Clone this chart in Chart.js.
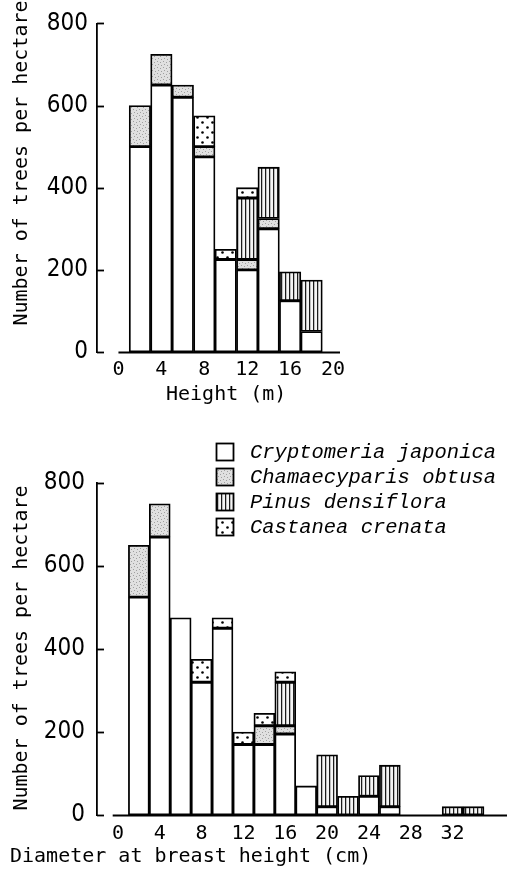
<!DOCTYPE html>
<html><head><meta charset="utf-8">
<script src="https://cdn.jsdelivr.net/npm/chart.js@4.4.1/dist/chart.umd.min.js"></script>
<style>
html,body{margin:0;padding:0;background:#fff;width:509px;height:870px;overflow:hidden}
#c1{position:absolute;left:0;top:0}
#c2{position:absolute;left:0;top:430px}
</style></head><body>
<canvas id="c1" width="509" height="410"></canvas>
<canvas id="c2" width="509" height="440"></canvas>
<script>
// ---------- data ----------
const speciesNames = ['Cryptomeria japonica','Chamaecyparis obtusa','Pinus densiflora','Castanea crenata'];
const yTicks = [0,200,400,600,800];
const yTitle = 'Number of trees per hectare';

const heightClasses = [2,4,6,8,10,12,14,16,18];
const heightTickLabels = [0,4,8,12,16,20];
const hCrypt = [500,650,620,475,225,200,300,125,50];
const hCham  = [100,75,30,25,0,25,25,0,0];
const hPinus = [0,0,0,0,0,150,125,70,125];
const hCast  = [0,0,0,75,25,25,0,0,0];
const heightTitle = 'Height (m)';

const dbhClasses = [2,4,6,8,10,12,14,16,18,20,22,24,26,28,30,32,34];
const dbhTickLabels = [0,4,8,12,16,20,24,28,32];
const dCrypt = [525,670,475,320,450,170,170,195,70,20,0,45,20,0,0,0,0];
const dCham  = [125,80,0,0,0,0,45,20,0,0,0,0,0,0,0,0,0];
const dPinus = [0,0,0,0,0,0,0,105,0,125,45,50,100,0,0,20,20];
const dCast  = [0,0,0,55,25,30,30,25,0,0,0,0,0,0,0,0,0];
const dbhTitle = 'Diameter at breast height (cm)';

// ---------- patterns ----------
function makePattern(kind){
  const c=document.createElement('canvas');
  const g=c.getContext('2d');
  if(kind==='stipple'){
    c.width=6;c.height=6;
    g.fillStyle='#e0e0e0';g.fillRect(0,0,6,6);
    g.fillStyle='#a0a0a0';
    g.fillRect(1,1,1,1);g.fillRect(4,2,1,1);g.fillRect(2,4,1,1);g.fillRect(5,5,1,1);
  } else if(kind==='stripes'){
    c.width=4;c.height=4;
    g.fillStyle='#f4f4f4';g.fillRect(0,0,4,4);
    g.fillStyle='#bdbdbd';g.fillRect(2,0,1,4);
    g.fillStyle='#1a1a1a';g.fillRect(1,0,1,4);
  } else if(kind==='dots'){
    c.width=10;c.height=10;
    g.fillStyle='#fff';g.fillRect(0,0,10,10);
    g.fillStyle='#000';
    g.beginPath();g.arc(2.5,2.5,1.3,0,Math.PI*2);g.fill();
    g.beginPath();g.arc(7.5,7.5,1.3,0,Math.PI*2);g.fill();
  } else {
    return '#ffffff';
  }
  return g.createPattern(c,'repeat');
}
const fills = [makePattern('white'),makePattern('stipple'),makePattern('stripes'),makePattern('dots')];

const MONO = '"DejaVu Sans Mono", "Liberation Mono", monospace';
const NARROW = '"Liberation Sans Narrow", "DejaVu Sans Condensed", "Roboto", sans-serif';

function toPoints(xs, ys){ return xs.map((x,i)=>({x:x, y: ys[i] ? ys[i] : null})); }

function makeDatasets(xs, series){
  return series.map((s,i)=>({
    label: speciesNames[i],
    data: toPoints(xs, s),
    backgroundColor: fills[i],
    borderColor: '#000',
    borderWidth: 1.8,
    borderSkipped: false,
    barPercentage: 1,
    categoryPercentage: 1
  }));
}

const deco = {
  id: 'deco',
  afterDraw(chart, args, o){
    const ctx = chart.ctx, xs = chart.scales.x, ys = chart.scales.y, a = chart.chartArea;
    ctx.save();
    ctx.strokeStyle = '#000'; ctx.lineWidth = 1.8;
    // inward y ticks
    yTicks.forEach(v=>{
      const py = Math.round(ys.getPixelForValue(v))+0.5;
      ctx.beginPath(); ctx.moveTo(a.left, py); ctx.lineTo(a.left+7, py); ctx.stroke();
    });
    // x baseline
    const by = Math.round(ys.getPixelForValue(0))+0.5;
    ctx.beginPath(); ctx.moveTo(xs.getPixelForValue(o.baseStart), by); ctx.lineTo(a.right, by); ctx.stroke();
    // titles
    ctx.fillStyle = '#000';
    ctx.font = '20px ' + MONO;
    ctx.textBaseline = 'middle';
    ctx.textAlign = 'left';
    ctx.fillText(o.xTitle, o.xTitleX, o.xTitleY);
    ctx.save();
    ctx.translate(o.yTitleX, o.yTitleY);
    ctx.rotate(-Math.PI/2);
    ctx.textAlign = 'center';
    ctx.fillText(yTitle, 0, 0);
    ctx.restore();
    // legend
    if(o.legend){
      const L = o.legend;
      ctx.font = 'italic 20.5px "Liberation Mono", "DejaVu Sans Mono", monospace';
      chart.data.datasets.forEach((ds,i)=>{
        const cy = L.y + i*L.step;
        ctx.fillStyle = ds.backgroundColor;
        ctx.fillRect(L.x, cy-9, 18, 18);
        ctx.lineWidth = 1.8; ctx.strokeStyle = '#000';
        ctx.strokeRect(L.x+0.5, cy-8.5, 17, 17);
        ctx.fillStyle = '#000';
        ctx.textAlign = 'left';
        ctx.fillText(ds.label, L.x+34, cy+1);
      });
    }
    ctx.restore();
  }
};

function makeOptions(xmin, xmax, tickVals, padTop, padRight, xHeight, tickPad, xTickPad, decoOpts){
  return {
    responsive: false,
    animation: false,
    events: [],
    layout: { padding: { top: padTop, right: padRight, left: 0, bottom: 0 } },
    plugins: { legend: { display: false }, tooltip: { enabled: false }, deco: decoOpts },
    scales: {
      x: {
        type: 'linear', stacked: true, min: xmin, max: xmax, offset: false,
        grid: { display: false }, border: { display: false },
        afterBuildTicks: s => { s.ticks = tickVals.map(v=>({value:v})); },
        afterFit: s => { s.height = xHeight; },
        ticks: { color: '#000', font: { family: MONO, size: 20 }, padding: xTickPad, maxRotation: 0, autoSkip: false }
      },
      y: {
        stacked: true, min: 0, max: 800,
        grid: { display: false, drawTicks: false },
        border: { display: true, color: '#000', width: 1.8 },
        afterBuildTicks: s => { s.ticks = yTicks.map(v=>({value:v})); },
        afterFit: s => { s.width = 97; },
        ticks: { color: '#000', font: { family: NARROW, size: 24 }, padding: tickPad }
      }
    }
  };
}

new Chart(document.getElementById('c1'), {
  type: 'bar',
  data: { datasets: makeDatasets(heightClasses, [hCrypt,hCham,hPinus,hCast]) },
  options: makeOptions(-2, 20.65, heightTickLabels, 17, 169, 58, 9, -2,
    { baseStart: 0, xTitle: heightTitle, xTitleX: 166, xTitleY: 395, yTitleX: 22, yTitleY: 163 }),
  plugins: [deco]
});

new Chart(document.getElementById('c2'), {
  type: 'bar',
  data: { datasets: makeDatasets(dbhClasses, [dCrypt,dCham,dPinus,dCast]) },
  options: makeOptions(-2, 37.2, dbhTickLabels, 53, 2, 55, 12, -1,
    { baseStart: -0.5, xTitle: dbhTitle, xTitleX: 10, xTitleY: 427, yTitleX: 22, yTitleY: 218,
      legend: { x: 216, y: 22, step: 25 } }),
  plugins: [deco]
});
</script>
</body></html>
